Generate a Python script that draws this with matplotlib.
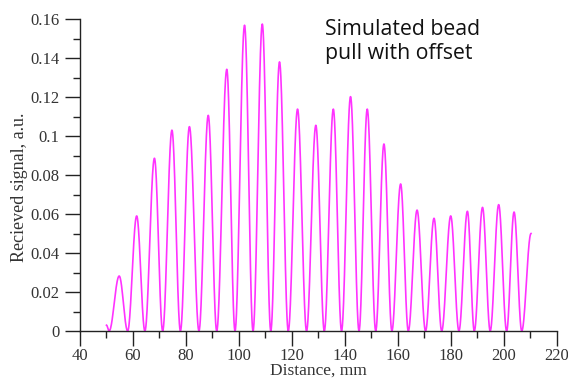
import numpy as np
import matplotlib
matplotlib.use("Agg")
import matplotlib.pyplot as plt
from matplotlib.ticker import MultipleLocator, FuncFormatter

# ── Data: alternating troughs / peaks of the bead-pull signal ──
key_x = [50.0, 51.0, 54.8, 58.0, 61.4, 64.5, 68.1, 71.2, 74.7, 77.9, 81.3, 84.9,
         88.4, 91.6, 95.4, 98.5, 102.1, 105.3, 108.8, 112.0, 115.3, 118.6, 122.1,
         125.5, 129.0, 132.2, 135.6, 138.7, 142.1, 145.3, 148.4, 151.6, 154.7,
         157.7, 161.0, 163.9, 167.2, 170.4, 173.6, 176.5, 179.9, 183.0, 186.2,
         188.8, 191.9, 194.8, 198.0, 201.0, 203.8, 206.7, 210.2]
key_y = [0.003, 0.0, 0.0282, 0.0, 0.059, 0.0, 0.0886, 0.0, 0.103, 0.0, 0.1048, 0.0,
         0.1106, 0.0, 0.1342, 0.0, 0.1568, 0.0, 0.1574, 0.0, 0.138, 0.0, 0.1138,
         0.0, 0.1055, 0.0, 0.1138, 0.0, 0.1202, 0.0, 0.1138, 0.0, 0.0959,
         0.0, 0.0754, 0.0, 0.062, 0.0, 0.0578, 0.0, 0.059, 0.0, 0.0614,
         0.0, 0.0634, 0.0, 0.0648, 0.0, 0.061, 0.0, 0.050]

x_ticks = [40, 60, 80, 100, 120, 140, 160, 180, 200, 220]
y_ticks = [0, 0.02, 0.04, 0.06, 0.08, 0.1, 0.12, 0.14, 0.16]

# smooth half-cosine segments between successive extrema
xs, ys = [], []
for i in range(len(key_x) - 1):
    t = np.linspace(0, 1, 40, endpoint=False)
    w = (1 - np.cos(np.pi * t)) / 2
    xs.append(key_x[i] + (key_x[i + 1] - key_x[i]) * t)
    ys.append(key_y[i] + (key_y[i + 1] - key_y[i]) * w)
xs.append([key_x[-1]])
ys.append([key_y[-1]])
xs = np.concatenate(xs)
ys = np.concatenate(ys)

serif = ["Liberation Serif", "DejaVu Serif"]
txt_color = "#333333"

fig = plt.figure(figsize=(5.68, 3.81), dpi=100)
ax = fig.add_axes([0.1408, 0.1312, 0.8398, 0.8189])

ax.plot(xs, ys, color="#ff33ff", lw=1.2)

ax.set_xlim(40, 220)
ax.set_ylim(0, 0.16)
ax.set_xticks(x_ticks)
ax.set_yticks(y_ticks)
ax.xaxis.set_minor_locator(MultipleLocator(10))
ax.yaxis.set_minor_locator(MultipleLocator(0.01))
ax.yaxis.set_major_formatter(FuncFormatter(lambda v, p: f"{v:g}"))

ax.spines[["top", "right"]].set_visible(False)
for s in ["left", "bottom"]:
    ax.spines[s].set_color("#222222")
    ax.spines[s].set_linewidth(1.0)

ax.tick_params(which="major", direction="out", length=11, width=1.0, color="#222222",
               labelsize=12, labelcolor=txt_color, pad=4)
ax.tick_params(axis="x", which="major", pad=1)
ax.tick_params(which="minor", direction="out", length=5, width=1.0, color="#222222")
for lab in ax.get_xticklabels() + ax.get_yticklabels():
    lab.set_family(serif)

ax.set_xlabel("Distance, mm", family=serif, fontsize=12.5, color=txt_color)
ax.set_ylabel("Recieved signal, a.u.", family=serif, fontsize=13, color=txt_color)
ax.xaxis.set_label_coords(0.5, -0.1)
ax.yaxis.set_label_coords(-0.108, 0.46)

fig.text(325 / 568, 1 - 19 / 381, "Simulated bead\npull with offset",
         family=["Open Sans", "DejaVu Sans"], fontsize=15.3, color="#111111",
         ha="left", va="top", linespacing=1.2)

fig.savefig("out.png", dpi=100)
